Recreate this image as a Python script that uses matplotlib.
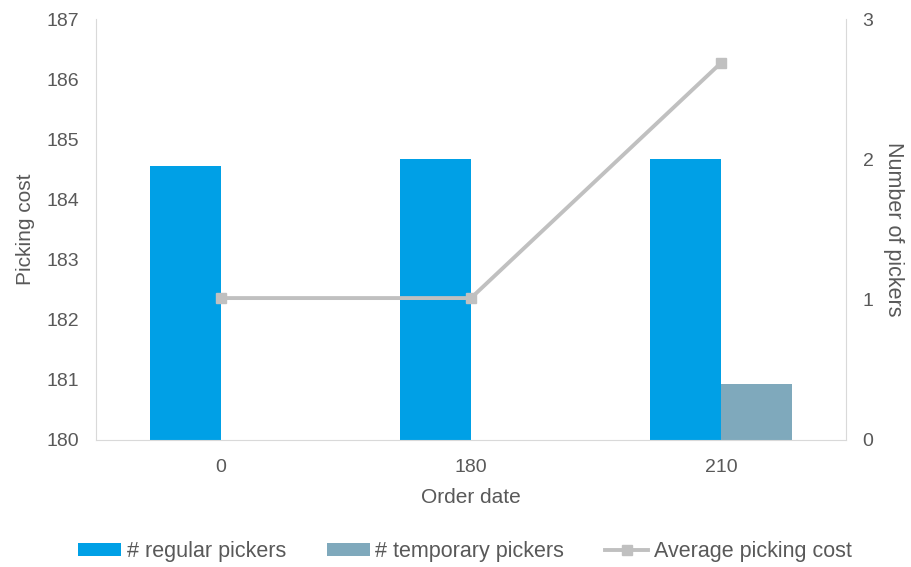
import numpy as np
import matplotlib.pyplot as plt

# -------------------------------------------
# Data
# -------------------------------------------
order_dates = ["0", "180", "210"]
regular_pickers = [1.95, 2.0, 2.0]
temporary_pickers = [0.0, 0.0, 0.4]
avg_picking_cost = [182.36, 182.36, 186.27]

plt.rcParams['font.family'] = ["Liberation Sans", "DejaVu Sans"]

text_col = "#595959"
spine_col = "#D9D9D9"

fig = plt.figure(figsize=(9.11, 5.67), dpi=100)
ax = fig.add_axes([96 / 911, 1 - 440 / 567, 750 / 911, 421 / 567])
ax2 = ax.twinx()

x = np.arange(len(order_dates))
w = 0.284

# bars go on the right axis (number of pickers)
b1 = ax2.bar(x - w / 2, regular_pickers, w, color="#00A0E6", label="# regular pickers")
b2 = ax2.bar(x + w / 2, temporary_pickers, w, color="#7FA9BC", label="# temporary pickers")
ax2.set_ylim(0, 3)
ax2.set_yticks([0, 1, 2, 3])

# line on the left axis (picking cost), drawn above the bars
ax.set_zorder(ax2.get_zorder() + 1)
ax.patch.set_visible(False)
ln, = ax.plot(x, avg_picking_cost, color="#C0C0C0", lw=2.8, marker="s", ms=7,
              label="Average picking cost")
ax.set_ylim(180, 187)
ax.set_yticks(range(180, 188))
ax.set_xlim(-0.5, 2.5)
ax.set_xticks(x)
ax.set_xticklabels(order_dates)

for a in (ax, ax2):
    a.tick_params(length=0, labelsize=14, colors=text_col)
    for s in a.spines.values():
        s.set_color(spine_col)
    a.spines["top"].set_visible(False)
ax.spines["right"].set_visible(False)
ax2.spines["left"].set_visible(False)
ax2.spines["bottom"].set_visible(False)
ax.tick_params(axis="y", pad=12)
ax2.tick_params(axis="y", pad=12)
ax.tick_params(axis="x", pad=14)

ax.set_xlabel("Order date", fontsize=15, color=text_col, labelpad=8)
ax.set_ylabel("Picking cost", fontsize=15, color=text_col, labelpad=8)
ax2.set_ylabel("Number of pickers", fontsize=15.5, color=text_col, rotation=270,
               labelpad=22)

fig.legend([b1, b2, ln], [b1.get_label(), b2.get_label(), ln.get_label()],
           loc="center", bbox_to_anchor=(465 / 911, 1 - 552 / 567), ncol=3,
           frameon=False, fontsize=15.5, labelcolor=text_col, handlelength=2.0,
           handleheight=0.55, handletextpad=0.25, columnspacing=1.9)

fig.savefig("out.png", dpi=100)
